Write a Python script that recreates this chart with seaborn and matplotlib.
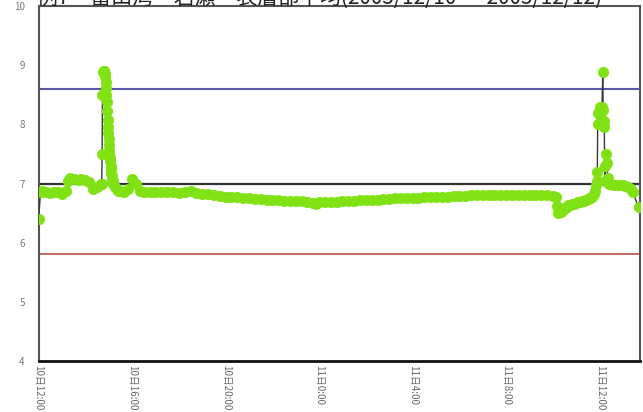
import matplotlib
matplotlib.use("Agg")
import matplotlib.pyplot as plt
import seaborn as sns
import pandas as pd

# ---- data ----
title_text = "例7　富山湾　岩瀬・表層部平均(2005/12/10 ～ 2005/12/12)"
tick_minutes = [0, 240, 480, 720, 960, 1200, 1440]
tick_labels = ["10日12:00", "10日16:00", "10日20:00", "11日0:00", "11日4:00", "11日8:00", "11日12:00"]
y_ticks = [4, 5, 6, 7, 8, 9, 10]

limit_upper = 8.6   # blue
limit_mid = 7.0     # black
limit_lower = 5.8   # red

minutes = [
    0, 5, 10, 20, 30, 40, 50, 60, 70, 75, 80, 90, 100, 110, 120, 130, 140, 150, 160,
    162, 163, 164, 166, 167, 168, 169, 170, 171, 172, 173, 174, 175, 176, 177, 178,
    179, 180, 181, 182, 183, 184, 185, 186, 187, 188, 189, 190, 192, 195, 200, 205, 210,
    220, 230, 240, 250, 260, 270, 285, 300, 315, 330, 345, 360, 375, 390, 405, 420,
    435, 450, 465, 480, 495, 510, 525, 540, 555, 570, 585, 600, 615, 630, 645, 660,
    675, 690, 705, 712, 720, 735, 750, 765, 780, 795, 810, 825, 840, 855, 870, 885,
    900, 915, 930, 945, 960, 975, 990, 1005, 1020, 1035, 1050, 1065, 1080, 1095,
    1110, 1125, 1140, 1155, 1170, 1185, 1200, 1215, 1230, 1245, 1260, 1275, 1290,
    1305, 1320, 1328, 1330, 1333, 1340, 1345, 1350, 1355, 1360, 1365, 1370, 1375, 1380,
    1385, 1390, 1395, 1400, 1405, 1410, 1415, 1420, 1425, 1428, 1430, 1432, 1434, 1435,
    1437, 1440, 1443, 1446, 1448, 1449, 1450, 1452, 1453, 1455, 1457, 1459, 1461, 1465,
    1470, 1475, 1480, 1490, 1500, 1505, 1512, 1520, 1525, 1540,
]
ph = [
    6.40, 6.86, 6.88, 6.86, 6.84, 6.86, 6.85, 6.83, 6.87, 7.05, 7.10, 7.08, 7.06, 7.08, 7.06, 7.02, 6.90, 6.94, 7.00,
    7.00, 7.50, 8.50, 8.88, 8.90, 8.90, 8.88, 8.86, 8.82, 8.72, 8.62, 8.50, 8.38, 8.22, 8.08, 7.95,
    7.85, 7.75, 7.65, 7.55, 7.45, 7.38, 7.30, 7.25, 7.18, 7.12, 7.08, 7.05, 7.00, 6.95, 6.90, 6.88, 6.87,
    6.86, 6.90, 7.08, 7.00, 6.88, 6.86, 6.86, 6.86, 6.85, 6.86, 6.85, 6.84, 6.85, 6.87, 6.84, 6.83,
    6.82, 6.80, 6.79, 6.78, 6.78, 6.77, 6.76, 6.75, 6.74, 6.74, 6.73, 6.72, 6.72, 6.71, 6.71, 6.70,
    6.70, 6.69, 6.67, 6.65, 6.69, 6.68, 6.68, 6.69, 6.70, 6.70, 6.71, 6.72, 6.72, 6.73, 6.73, 6.74,
    6.74, 6.75, 6.75, 6.75, 6.76, 6.76, 6.77, 6.77, 6.77, 6.78, 6.78, 6.79, 6.79, 6.79,
    6.80, 6.80, 6.80, 6.81, 6.80, 6.81, 6.81, 6.80, 6.81, 6.80, 6.81, 6.80, 6.80,
    6.80, 6.79, 6.78, 6.62, 6.50, 6.52, 6.55, 6.58, 6.61, 6.63, 6.64, 6.65, 6.66, 6.67,
    6.68, 6.69, 6.70, 6.71, 6.72, 6.74, 6.76, 6.78, 6.82, 6.88, 6.98, 7.05, 7.20, 8.00,
    8.20, 8.30, 8.10, 8.30, 8.88, 8.25, 8.05, 7.95, 7.05, 7.30, 7.50, 7.35, 7.10, 7.00,
    6.99, 6.98, 6.98, 6.97, 6.97, 6.96, 6.94, 6.90, 6.85, 6.60,
]

df = pd.DataFrame({"minute": minutes, "ph": ph})

# ---- style ----
sns.set_theme(style="white")
plt.rcParams["font.family"] = ["Noto Sans CJK JP", "DejaVu Sans"]

fig = plt.figure(figsize=(6.43, 4.12), dpi=100)
ax = fig.add_axes([0.060, 0.124, 0.935, 0.861])

ax.axhline(limit_upper, color="#5a5aa8", lw=1.5, zorder=1)
ax.axhline(limit_mid, color="#333333", lw=1.6, zorder=1)
ax.axhline(limit_lower, color="#c05a5a", lw=1.3, zorder=1)

sns.lineplot(data=df, x="minute", y="ph", ax=ax, color="#3a3a3a", lw=1.0,
             marker="o", markersize=7.5, markerfacecolor="#80e214",
             markeredgecolor="#80e214", markeredgewidth=0.5, zorder=3)

ax.set_xlim(0, 1543)
ax.set_ylim(4, 10)
ax.set_xticks(tick_minutes)
ax.set_xticklabels(tick_labels, rotation=270, fontsize=7, color="#666666")
ax.set_yticks(y_ticks)
ax.set_yticklabels([str(v) for v in y_ticks], fontsize=7, color="#777777")
ax.tick_params(axis="x", direction="in", length=8, width=1.6, color="#222222", pad=3)
ax.tick_params(axis="y", length=0, pad=10)
ax.set_xlabel("")
ax.set_ylabel("")

for side in ["left", "right", "top"]:
    ax.spines[side].set_color("#555555")
    ax.spines[side].set_linewidth(1.5)
ax.spines["bottom"].set_color("#111111")
ax.spines["bottom"].set_linewidth(2.0)

fig.text(0.057, 0.990, title_text, fontsize=15, color="#222222",
         ha="left", va="baseline")

fig.savefig("out.png", dpi=100)
